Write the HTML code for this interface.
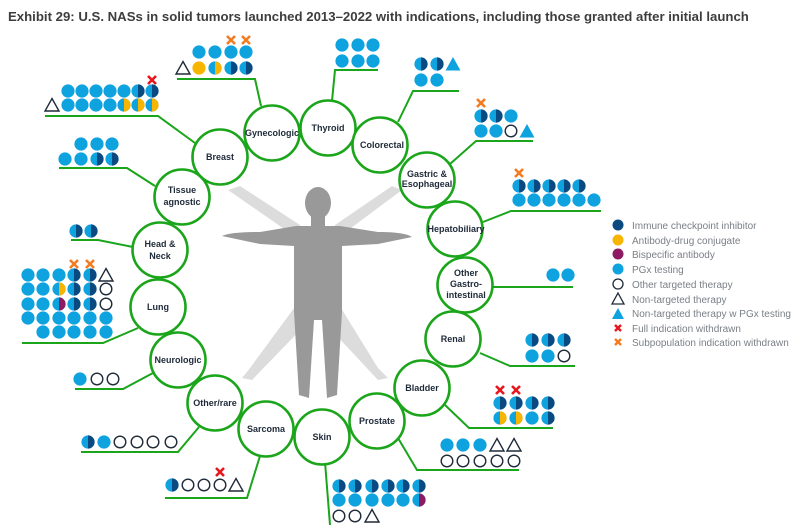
<!DOCTYPE html>
<html><head><meta charset="utf-8"><style>
html,body{margin:0;padding:0;background:#fff;}
svg{display:block;font-family:"Liberation Sans",sans-serif;}
.c{fill:#fff;stroke:#1aa51a;stroke-width:2.6;}
.l{fill:none;stroke:#1aa51a;stroke-width:2;}
.t{font-size:9px;font-weight:bold;fill:#1e2a38;text-anchor:middle;}
.lg{font-size:10px;fill:#7a7f86;}
</style></head><body>
<svg width="800" height="525" viewBox="0 0 800 525" xmlns="http://www.w3.org/2000/svg">
<defs>
<circle id="p" r="6.6" fill="#0ea2df"/>
<g id="i"><circle r="6.6" fill="#0ea2df"/><path d="M0,-6.6A6.6,6.6 0 0 1 0,6.6Z" fill="#0b4a80"/></g>
<g id="a"><circle r="6.6" fill="#0ea2df"/><path d="M0,-6.6A6.6,6.6 0 0 1 0,6.6Z" fill="#f7b500"/></g>
<g id="b"><circle r="6.6" fill="#0ea2df"/><path d="M0,-6.6A6.6,6.6 0 0 1 0,6.6Z" fill="#8e1a63"/></g>
<circle id="y" r="6.6" fill="#f7b500"/>
<circle id="o" r="5.8" fill="#fff" stroke="#1e2a38" stroke-width="1.4"/>
<path id="tr" d="M0,-6.5L7,6L-7,6Z" fill="none" stroke="#1e2a38" stroke-width="1.4"/>
<path id="tb" d="M0,-7L7.5,6.5L-7.5,6.5Z" fill="#0ea2df"/>
<path id="xr" d="M-4,-4L4,4M4,-4L-4,4" stroke="#e8161c" stroke-width="2.6"/>
<path id="xo" d="M-4,-4L4,4M4,-4L-4,4" stroke="#f47b20" stroke-width="2.6"/>
</defs>
<text x="8" y="21" font-size="13.2" font-weight="bold" fill="#3d3d3d">Exhibit 29: U.S. NASs in solid tumors launched 2013–2022 with indications, including those granted after initial launch</text>

<!-- human figure -->
<g fill="#dcdcdc">
<path d="M228,190 L240,186 L300,225 L300,240 Z"/>
<path d="M402,190 L392,186 L335,225 L335,240 Z"/>
<path d="M300,300 L250,368 L242,378 L252,380 L310,320 Z"/>
<path d="M336,300 L378,368 L388,378 L378,380 L322,320 Z"/>
</g>
<g fill="#999">
<ellipse cx="318" cy="203" rx="13" ry="16"/>
<rect x="311" y="214" width="14" height="14"/>
<path d="M222,236 Q230,232 260,232 L296,226 L340,226 L378,232 Q405,232 412,237 L378,244 L342,246 L342,312 L337,395 L327,398 L322,320 L314,320 L309,398 L299,395 L294,312 L294,246 L260,244 Z"/>
</g>

<!-- connectors -->
<g class="l">
<polyline points="45,116 158,116 195,143"/>
<polyline points="177,79 255,79 261,106"/>
<polyline points="378,70 335,70 332,101"/>
<polyline points="459,91 413,91 398,122"/>
<polyline points="59,168 127,168 155,186"/>
<polyline points="71,240 98,240 133,247"/>
<polyline points="533,141 476,141 450,164"/>
<polyline points="601,211 511,211 483,222"/>
<polyline points="573,287 493,287"/>
<polyline points="575,366 510,366 480,353"/>
<polyline points="553,428 469,428 445,405"/>
<polyline points="519,470 417,470 398,438"/>
<polyline points="325,462 330,525"/>
<polyline points="165,498 247,498 260,456"/>
<polyline points="81,452 178,452 199,427"/>
<polyline points="75,389 123,389 153,373"/>
<polyline points="22,343 103,343 138,328"/>
</g>

<!-- circles -->
<circle class="c" cx="272" cy="133" r="27.5"/>
<circle class="c" cx="328" cy="128" r="27.5"/>
<circle class="c" cx="380" cy="145" r="27.5"/>
<circle class="c" cx="220" cy="157" r="27.5"/>
<circle class="c" cx="182" cy="197" r="27.5"/>
<circle class="c" cx="160" cy="250" r="27.5"/>
<circle class="c" cx="427" cy="180" r="27.5"/>
<circle class="c" cx="455" cy="229" r="27.5"/>
<circle class="c" cx="465" cy="285" r="27.5"/>
<circle class="c" cx="453" cy="339" r="27.5"/>
<circle class="c" cx="422" cy="388" r="27.5"/>
<circle class="c" cx="377" cy="421" r="27.5"/>
<circle class="c" cx="322" cy="437" r="27.5"/>
<circle class="c" cx="266" cy="429" r="27.5"/>
<circle class="c" cx="215" cy="403" r="27.5"/>
<circle class="c" cx="178" cy="360" r="27.5"/>
<circle class="c" cx="158" cy="307" r="27.5"/>

<text class="t" x="272" y="136">Gynecologic</text>
<text class="t" x="328" y="131">Thyroid</text>
<text class="t" x="382" y="148">Colorectal</text>
<text class="t" x="220" y="160">Breast</text>
<text class="t" x="182" y="193">Tissue</text><text class="t" x="182" y="205">agnostic</text>
<text class="t" x="160" y="247">Head &amp;</text><text class="t" x="160" y="259">Neck</text>
<text class="t" x="427" y="177">Gastric &amp;</text><text class="t" x="427" y="187">Esophageal</text>
<text class="t" x="456" y="232">Hepatobiliary</text>
<text class="t" x="466" y="276">Other</text><text class="t" x="466" y="287">Gastro-</text><text class="t" x="466" y="298">intestinal</text>
<text class="t" x="453" y="342">Renal</text>
<text class="t" x="422" y="391">Bladder</text>
<text class="t" x="377" y="424">Prostate</text>
<text class="t" x="322" y="440">Skin</text>
<text class="t" x="266" y="432">Sarcoma</text>
<text class="t" x="215" y="406">Other/rare</text>
<text class="t" x="178" y="363">Neurologic</text>
<text class="t" x="158" y="310">Lung</text>

<!-- Gynecologic -->
<use href="#xo" x="231" y="40"/><use href="#xo" x="246" y="40"/>
<use href="#p" x="199" y="52"/><use href="#p" x="215" y="52"/><use href="#p" x="231" y="52"/><use href="#p" x="246" y="52"/>
<use href="#tr" x="183" y="68"/><use href="#y" x="199" y="68"/><use href="#a" x="215" y="68"/><use href="#i" x="231" y="68"/><use href="#i" x="246" y="68"/>
<!-- Thyroid -->
<use href="#p" x="342" y="45"/><use href="#p" x="358" y="45"/><use href="#p" x="373" y="45"/>
<use href="#p" x="342" y="61"/><use href="#p" x="358" y="61"/><use href="#p" x="373" y="61"/>
<!-- Colorectal -->
<use href="#i" x="421" y="64"/><use href="#i" x="437" y="64"/><use href="#tb" x="453" y="64"/>
<use href="#p" x="421" y="80"/><use href="#p" x="437" y="80"/>
<!-- Breast -->
<use href="#xr" x="152" y="80"/>
<use href="#p" x="68" y="91"/><use href="#p" x="82" y="91"/><use href="#p" x="96" y="91"/><use href="#p" x="110" y="91"/><use href="#p" x="124" y="91"/><use href="#i" x="138" y="91"/><use href="#i" x="152" y="91"/>
<use href="#tr" x="52" y="105"/><use href="#p" x="68" y="105"/><use href="#p" x="82" y="105"/><use href="#p" x="96" y="105"/><use href="#p" x="110" y="105"/><use href="#a" x="124" y="105"/><use href="#a" x="138" y="105"/><use href="#a" x="152" y="105"/>
<!-- Tissue -->
<use href="#p" x="81" y="144"/><use href="#p" x="97" y="144"/><use href="#p" x="112" y="144"/>
<use href="#p" x="65" y="159"/><use href="#p" x="81" y="159"/><use href="#i" x="97" y="159"/><use href="#i" x="112" y="159"/>
<!-- Head neck -->
<use href="#i" x="76" y="231"/><use href="#i" x="91" y="231"/>
<!-- Gastric -->
<use href="#xo" x="481" y="103"/>
<use href="#i" x="481" y="116"/><use href="#i" x="496" y="116"/><use href="#p" x="511" y="116"/>
<use href="#p" x="481" y="131"/><use href="#p" x="496" y="131"/><use href="#o" x="511" y="131"/><use href="#tb" x="527" y="131"/>
<!-- Hepato -->
<use href="#xo" x="519" y="173"/>
<use href="#i" x="519" y="186"/><use href="#i" x="534" y="186"/><use href="#i" x="549" y="186"/><use href="#i" x="564" y="186"/><use href="#i" x="579" y="186"/>
<use href="#p" x="519" y="200"/><use href="#p" x="534" y="200"/><use href="#p" x="549" y="200"/><use href="#p" x="564" y="200"/><use href="#p" x="579" y="200"/><use href="#p" x="594" y="200"/>
<!-- Other GI -->
<use href="#p" x="553" y="275"/><use href="#p" x="568" y="275"/>
<!-- Renal -->
<use href="#i" x="532" y="340"/><use href="#i" x="548" y="340"/><use href="#i" x="564" y="340"/>
<use href="#p" x="532" y="356"/><use href="#p" x="548" y="356"/><use href="#o" x="564" y="356"/>
<!-- Bladder -->
<use href="#xr" x="500" y="390"/><use href="#xr" x="516" y="390"/>
<use href="#i" x="500" y="403"/><use href="#i" x="516" y="403"/><use href="#i" x="532" y="403"/><use href="#i" x="548" y="403"/>
<use href="#a" x="500" y="418"/><use href="#a" x="516" y="418"/><use href="#p" x="532" y="418"/><use href="#i" x="548" y="418"/>
<!-- Prostate -->
<use href="#p" x="447" y="445"/><use href="#p" x="463" y="445"/><use href="#p" x="480" y="445"/><use href="#tr" x="497" y="445"/><use href="#tr" x="514" y="445"/>
<use href="#o" x="447" y="461"/><use href="#o" x="463" y="461"/><use href="#o" x="480" y="461"/><use href="#o" x="497" y="461"/><use href="#o" x="514" y="461"/>
<!-- Skin -->
<use href="#i" x="339" y="486"/><use href="#i" x="355" y="486"/><use href="#i" x="372" y="486"/><use href="#i" x="388" y="486"/><use href="#i" x="403" y="486"/><use href="#i" x="419" y="486"/>
<use href="#p" x="339" y="500"/><use href="#p" x="355" y="500"/><use href="#p" x="372" y="500"/><use href="#p" x="388" y="500"/><use href="#p" x="403" y="500"/><use href="#b" x="419" y="500"/>
<use href="#o" x="339" y="516"/><use href="#o" x="355" y="516"/><use href="#tr" x="372" y="516"/>
<!-- Sarcoma -->
<use href="#xr" x="220" y="472"/>
<use href="#i" x="172" y="485"/><use href="#o" x="188" y="485"/><use href="#o" x="204" y="485"/><use href="#o" x="220" y="485"/><use href="#tr" x="236" y="485"/>
<!-- Other/rare -->
<use href="#i" x="88" y="442"/><use href="#p" x="104" y="442"/><use href="#o" x="120" y="442"/><use href="#o" x="137" y="442"/><use href="#o" x="153" y="442"/><use href="#o" x="171" y="442"/>
<!-- Neurologic -->
<use href="#p" x="80" y="379"/><use href="#o" x="97" y="379"/><use href="#o" x="113" y="379"/>
<!-- Lung -->
<use href="#xo" x="74" y="264"/><use href="#xo" x="90" y="264"/>
<use href="#p" x="28" y="275"/><use href="#p" x="43" y="275"/><use href="#p" x="59" y="275"/><use href="#i" x="74" y="275"/><use href="#i" x="90" y="275"/><use href="#tr" x="106" y="275"/>
<use href="#p" x="28" y="289"/><use href="#p" x="43" y="289"/><use href="#a" x="59" y="289"/><use href="#i" x="74" y="289"/><use href="#i" x="90" y="289"/><use href="#o" x="106" y="289"/>
<use href="#p" x="28" y="304"/><use href="#p" x="43" y="304"/><use href="#b" x="59" y="304"/><use href="#i" x="74" y="304"/><use href="#i" x="90" y="304"/><use href="#o" x="106" y="304"/>
<use href="#p" x="28" y="318"/><use href="#p" x="43" y="318"/><use href="#p" x="59" y="318"/><use href="#p" x="74" y="318"/><use href="#p" x="90" y="318"/><use href="#p" x="106" y="318"/>
<use href="#p" x="43" y="332"/><use href="#p" x="59" y="332"/><use href="#p" x="74" y="332"/><use href="#p" x="90" y="332"/><use href="#p" x="106" y="332"/>

<!-- legend -->
<circle cx="618" cy="225" r="5.5" fill="#0b4a80"/>
<circle cx="618" cy="240" r="5.5" fill="#f7b500"/>
<circle cx="618" cy="254" r="5.5" fill="#8e1a63"/>
<circle cx="618" cy="269" r="5.5" fill="#0ea2df"/>
<circle cx="618" cy="284" r="5" fill="#fff" stroke="#1e2a38" stroke-width="1.3"/>
<path d="M618,293L624,304L612,304Z" fill="none" stroke="#1e2a38" stroke-width="1.3"/>
<path d="M618,308L624,319L612,319Z" fill="#0ea2df"/>
<path d="M615,325L621,331M621,325L615,331" stroke="#e8161c" stroke-width="2.4"/>
<path d="M615,339L621,345M621,339L615,345" stroke="#f47b20" stroke-width="2.4"/>
<text class="lg" x="632" y="229">Immune checkpoint inhibitor</text>
<text class="lg" x="632" y="244">Antibody-drug conjugate</text>
<text class="lg" x="632" y="258">Bispecific antibody</text>
<text class="lg" x="632" y="273">PGx testing</text>
<text class="lg" x="632" y="288">Other targeted therapy</text>
<text class="lg" x="632" y="303">Non-targeted therapy</text>
<text class="lg" x="632" y="317">Non-targeted therapy w PGx testing</text>
<text class="lg" x="632" y="332">Full indication withdrawn</text>
<text class="lg" x="632" y="346">Subpopulation indication withdrawn</text>
</svg>
</body></html>
